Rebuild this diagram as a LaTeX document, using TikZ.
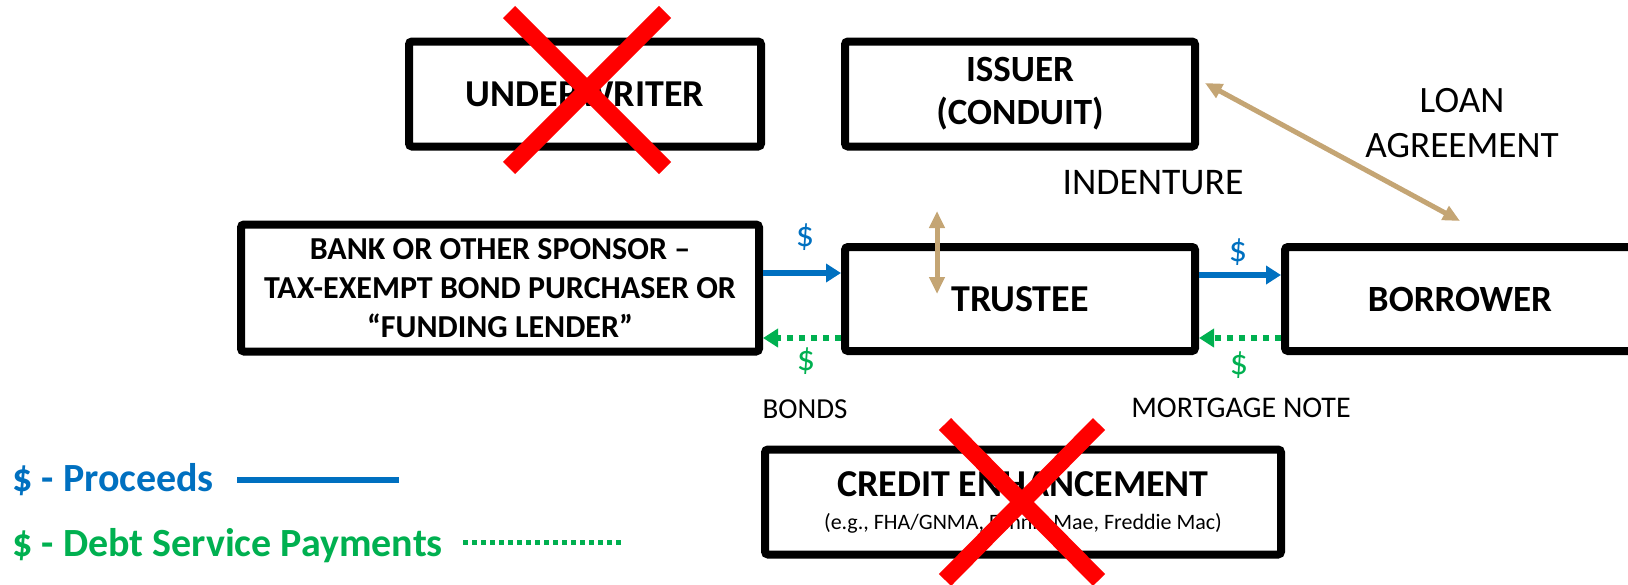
\documentclass[tikz,border=0pt]{standalone}
\usepackage{fontspec}
\setmainfont{Carlito}
\usetikzlibrary{arrows.meta,calc,positioning}

\begin{document}
\begin{tikzpicture}[x=0.5pt,y=-0.5pt,
    party/.style={draw,line width=4pt,rounded corners=1.5pt,inner sep=0pt,align=center,font=\bfseries},
    proceeds/.style={line width=3pt,color=procblue,-{Triangle[length=7.5pt,width=9pt]}},
    payments/.style={line width=3pt,color=paygreen,dash pattern=on 3pt off 3pt,-{Triangle[length=7.5pt,width=9pt]}},
    agreement/.style={line width=2.5pt,color=tan,{Triangle[length=8.5pt,width=7.5pt]}-{Triangle[length=8.5pt,width=7.5pt]}},
    cross/.style={line width=8.5pt,color=red}]
    \definecolor{procblue}{HTML}{0070C0}
    \definecolor{paygreen}{HTML}{00B050}
    \definecolor{tan}{HTML}{C4A574}
    \useasboundingbox (0,0) rectangle (1628,584);

    % parties
    \node(underwriter) [party,minimum width=176pt,minimum height=52.5pt,font=\bfseries\fontsize{19}{23}\selectfont] at (585,94) {UNDERWRITER};
    \node(issuer) [party,minimum width=175pt,minimum height=52.5pt,font=\bfseries\fontsize{18.5}{21.5}\selectfont] at (1020,94) {ISSUER\\(CONDUIT)};
    \node(bank) [party,minimum width=259pt,minimum height=63.5pt,font=\bfseries\fontsize{16}{19.5}\selectfont] at (500,288) {BANK OR OTHER SPONSOR --\\TAX-EXEMPT BOND PURCHASER OR\\``FUNDING LENDER''};
    \node(trustee) [party,minimum width=175pt,minimum height=52pt,font=\bfseries\fontsize{19}{23}\selectfont] at (1020,299) {TRUSTEE};
    \node(borrower) [party,minimum width=175pt,minimum height=52pt,font=\bfseries\fontsize{18.5}{22}\selectfont] at (1460,299) {BORROWER};
    \node(credit) [party,minimum width=258pt,minimum height=52.5pt] at (1023,502) {{\fontsize{19}{22}\selectfont CREDIT ENHANCEMENT}\\[4.5pt]{\mdseries\fontsize{11}{13}\selectfont (e.g., FHA/GNMA, Fannie Mae, Freddie Mac)}};

    % money flows
    \coordinate (bankin) at ($(bank.east)+(0,7.5pt)$);
    \coordinate (bankout) at ($(bank.east)+(0,-25pt)$);
    \coordinate (trustout) at ($(trustee.east)+(0,12pt)$);
    \coordinate (trustin) at ($(trustee.east)+(0,-19.5pt)$);
    \draw[proceeds] (bankin) -- (bankin -| trustee.west);
    \draw[payments] (bankout -| trustee.west) -- (bankout);
    \draw[proceeds] (trustout) -- (trustout -| borrower.west);
    \draw[payments] (trustin -| borrower.west) -- (trustin);

    \node(dolla) [text=procblue,font=\fontsize{18}{22}\selectfont] at (805,237) {\$};
    \node(dollb) [text=paygreen,font=\fontsize{18}{22}\selectfont] at (806,361) {\$};
    \node(dollc) [text=procblue,font=\fontsize{18}{22}\selectfont] at (1238,252) {\$};
    \node(dolld) [text=paygreen,font=\fontsize{18}{22}\selectfont] at (1239,365) {\$};
    \node(bonds) [font=\fontsize{14.5}{17}\selectfont] at (805,409) {BONDS};
    \node(note) [font=\fontsize{15}{17}\selectfont] at (1241,408) {MORTGAGE NOTE};

    % agreements
    \coordinate (indtop) at (937,211);
    \coordinate (indbot) at (937,294);
    \draw[agreement] (indtop) -- (indbot);
    \node(indenture) [font=\fontsize{18.8}{22}\selectfont] at (1153,183) {INDENTURE};
    \coordinate (loanstart) at ($(issuer.east)+(3pt,5.5pt)$);
    \coordinate (loanend) at ($(borrower.north)+(0,11pt)$);
    \draw[agreement] (loanstart) -- (loanend);
    \node(loan) [align=center,font=\fontsize{18.6}{22.5}\selectfont] at (1462,123) {LOAN\\AGREEMENT};

    % removed parties
    \draw[cross] (509,12) -- (665,168);
    \draw[cross] (665,12) -- (509,168);
    \draw[cross] (945,424) -- (1099,580);
    \draw[cross] (1099,424) -- (945,580);

    % legend
    \node(legproc) [anchor=west,inner sep=0pt,text=procblue,font=\bfseries\fontsize{20}{24}\selectfont] at (12,480) {\$ - Proceeds};
    \node(legpay) [anchor=west,inner sep=0pt,text=paygreen,font=\bfseries\fontsize{20}{24}\selectfont] at (12,546) {\$ - Debt Service Payments};
    \coordinate (procline) at (399,480);
    \coordinate (payline) at (623,542);
    \draw[line width=3pt,procblue] (legproc.east -| 237,0) -- (procline);
    \draw[line width=2.5pt,paygreen,dash pattern=on 2.5pt off 2pt] (payline -| 463,0) -- (payline);
\end{tikzpicture}
\end{document}
